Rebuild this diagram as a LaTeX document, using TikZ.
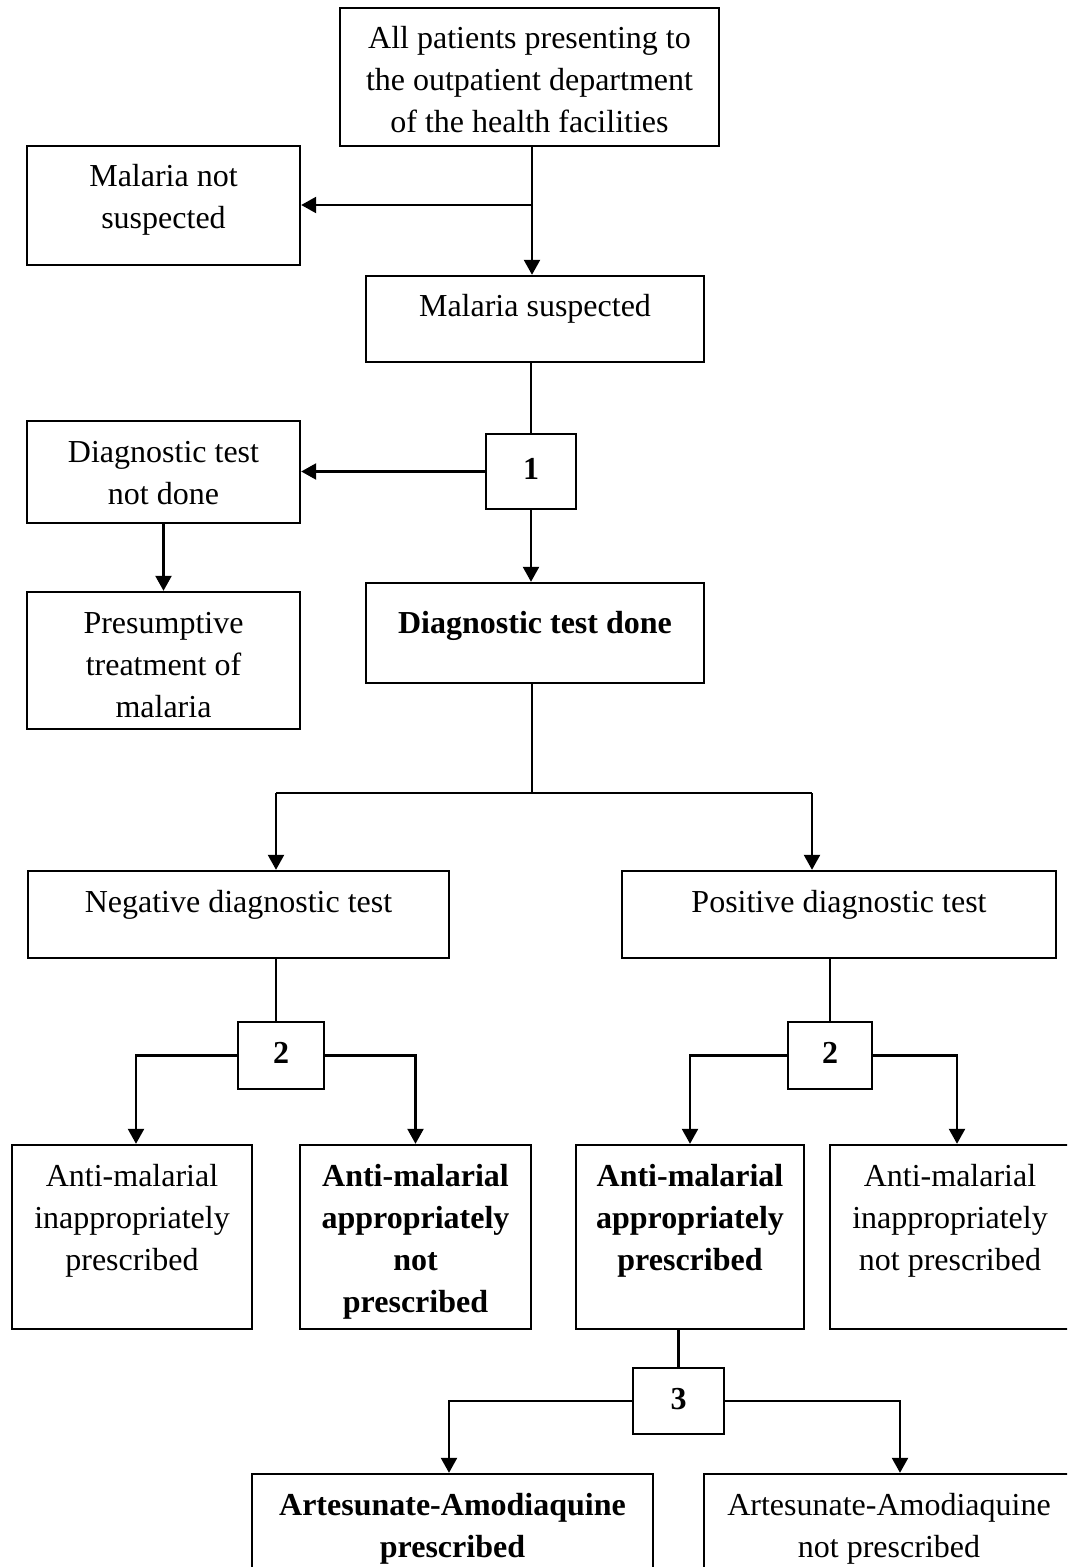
\documentclass[tikz,border=0pt]{standalone}
\usepackage{fontspec}
\setmainfont{Liberation Serif}
\usetikzlibrary{arrows.meta,calc}
\begin{document}
\begin{tikzpicture}[x=0.5pt,y=-0.5pt, line width=1.2pt,
  bx/.style 2 args={draw, rectangle, inner sep=0pt, minimum width=#1*0.5pt, minimum height=#2*0.5pt},
  lbl/.style={anchor=north, inner sep=0pt, align=center, font=\fontsize{16}{21}\selectfont},
  num/.style={font=\fontsize{16}{21}\selectfont\bfseries, text depth=2.5pt},
  arr/.style={-{Triangle[length=7.5pt,width=8pt]}}]
\useasboundingbox (0,0) rectangle (1067,1567);
\clip (0,0) rectangle (1067,1567);
\fill[white] (0,0) rectangle (1067,1567);

% boxes
\node[bx={379}{138}] (top) at (529.5,77) {};
\node[bx={273}{119}] (mns) at (163.5,205.5) {};
\node[bx={338}{86}] (ms) at (535,319) {};
\node[bx={90}{75},num] (b1) at (531,471.5) {1};
\node[bx={273}{102}] (dnd) at (163.5,472) {};
\node[bx={273}{137}] (pres) at (163.5,660.5) {};
\node[bx={338}{100}] (dtd) at (535,633) {};
\node[bx={421}{87}] (neg) at (238.5,914.5) {};
\node[bx={434}{87}] (pos) at (839,914.5) {};
\node[bx={86}{67},num] (b2L) at (281,1055.5) {2};
\node[bx={84}{67},num] (b2R) at (830,1055.5) {2};
\node[bx={240}{184}] (amip) at (132,1237) {};
\node[bx={231}{184}] (amanp) at (415.5,1237) {};
\node[bx={228}{184}] (amap) at (690,1237) {};
\node[bx={240}{184}] (amnp) at (950,1237) {};
\node[bx={91}{66},num] (b3) at (678.5,1401) {3};
\node[bx={401}{126}] (artp) at (452.5,1537) {};
\node[bx={370}{126}] (artn) at (889,1537) {};

% texts
\node[lbl] (topT) at ([yshift=-5.8pt]top.north) {\strut All patients presenting to\\the outpatient department\\of the health facilities};
\node[lbl] (mnsT) at ([yshift=-5.8pt]mns.north) {\strut Malaria not\\suspected};
\node[lbl] (msT) at ([yshift=-5.8pt]ms.north) {\strut Malaria suspected};
\node[lbl] (dndT) at ([yshift=-5.8pt]dnd.north) {\strut Diagnostic test\\not done};
\node[lbl] (presT) at ([yshift=-5.8pt]pres.north) {\strut Presumptive\\treatment of\\malaria};
\node[lbl] (dtdT) at ([yshift=-10.3pt]dtd.north) {\strut\bfseries Diagnostic test done};
\node[lbl] (negT) at ([yshift=-5.8pt]neg.north) {\strut Negative diagnostic test};
\node[lbl] (posT) at ([yshift=-5.8pt]pos.north) {\strut Positive diagnostic test};
\node[lbl] (amipT) at ([yshift=-5.8pt]amip.north) {\strut Anti-malarial\\inappropriately\\prescribed};
\node[lbl,font=\fontsize{16}{21}\selectfont\bfseries] (amanpT) at ([yshift=-5.8pt]amanp.north) {\strut Anti-malarial\\appropriately\\not\\prescribed};
\node[lbl,font=\fontsize{16}{21}\selectfont\bfseries] (amapT) at ([yshift=-5.8pt]amap.north) {\strut Anti-malarial\\appropriately\\prescribed};
\node[lbl] (amnpT) at ([yshift=-5.8pt]amnp.north) {\strut Anti-malarial\\inappropriately\\not prescribed};
\node[lbl,font=\fontsize{16}{21}\selectfont\bfseries] (artpT) at ([yshift=-5.8pt]artp.north) {\strut Artesunate-Amodiaquine\\prescribed};
\node[lbl] (artnT) at ([yshift=-5.8pt]artn.north) {\strut Artesunate-Amodiaquine\\not prescribed};

% junction coordinates
\coordinate (j1) at (532,205);
\coordinate (j2) at (532,793);
\coordinate (jl) at (276,793);
\coordinate (jr) at (812,793);
\coordinate (c1) at (136,1054);
\coordinate (c2) at (957,1054);
\coordinate (c3) at (449,1403);
\coordinate (c4) at (900,1403);

% connectors
\draw (top.south -| j1) -- (j1);
\draw[arr] (j1) -- (mns.east |- j1);
\draw[arr] (j1) -- (ms.north -| j1);
\draw (ms.south -| b1.north) -- (b1.north);
\draw[arr] (b1.west) -- (b1.west -| dnd.east);
\draw[arr] (dnd.south) -- (pres.north);
\draw[arr] (b1.south) -- (dtd.north -| b1.south);
\draw (dtd.south -| j2) -- (j2);
\draw (jl) -- (jr);
\draw[arr] (jl) -- (neg.north -| jl);
\draw[arr] (jr) -- (pos.north -| jr);
\draw (neg.south -| jl) -- (b2L.north -| jl);
\draw[arr] (b2L.west) -| (amip.north -| c1);
\draw[arr] (b2L.east) -| (amanp.north);
\draw (pos.south -| b2R.north) -- (b2R.north);
\draw[arr] (b2R.west) -| (amap.north);
\draw[arr] (b2R.east) -| (amnp.north -| c2);
\draw (amap.south -| b3.north) -- (b3.north);
\draw[arr] (b3.west) -| (artp.north -| c3);
\draw[arr] (b3.east) -| (artn.north -| c4);
\end{tikzpicture}
\end{document}
